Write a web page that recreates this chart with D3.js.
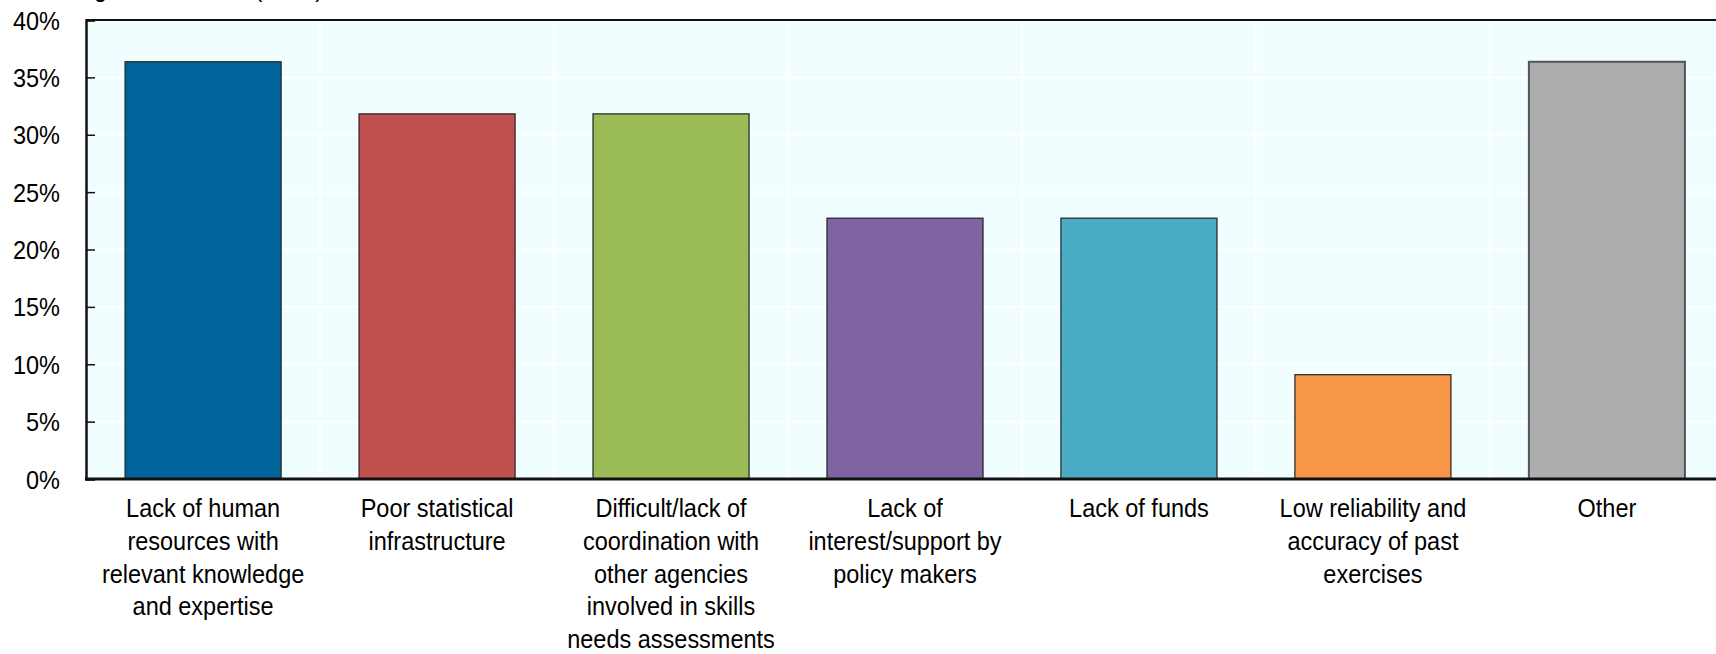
<!DOCTYPE html>
<html>
<head>
<meta charset="utf-8">
<script src="https://cdn.jsdelivr.net/npm/d3@7"></script>
<style>
  html, body { margin: 0; padding: 0; background: #ffffff; }
  svg { display: block; }
  text { font-family: "Liberation Sans", Arial, sans-serif; fill: #000; }
</style>
</head>
<body>
<svg id="chart" width="1716" height="654"></svg>
<script>
// Obstacles reported (share of countries, n = 22)
const categories = [
  ["Lack of human", "resources with", "relevant knowledge", "and expertise"],
  ["Poor statistical", "infrastructure"],
  ["Difficult/lack of", "coordination with", "other agencies", "involved in skills", "needs assessments"],
  ["Lack of", "interest/support by", "policy makers"],
  ["Lack of funds"],
  ["Low reliability and", "accuracy of past", "exercises"],
  ["Other"]
];
const shares = [36.36, 31.82, 31.82, 22.73, 22.73, 9.09, 36.36];
const barColors = ["#006399", "#C0504D", "#9BBB59", "#8064A2", "#4BACC6", "#F79646", "#ADADAD"];
const yTicks = [0, 5, 10, 15, 20, 25, 30, 35, 40];
const yTitle = "Percentage of countries (n=22)";

const svg = d3.select("#chart");
const plotLeft = 86, plotRight = 1724, plotTop = 20, plotBottom = 479;
const squeeze = 0.94;   // horizontal compression of the lettering
const fontSize = 25;

const x = d3.scaleBand()
  .domain(d3.range(categories.length))
  .range([plotLeft, plotRight])
  .paddingInner(0.333)
  .paddingOuter(0.167);
const y = d3.scaleLinear().domain([0, 40]).range([plotBottom, plotTop]);

// plot background
svg.append("rect")
  .attr("x", plotLeft).attr("y", plotTop)
  .attr("width", plotRight - plotLeft).attr("height", plotBottom - plotTop)
  .attr("fill", "#F1FEFF");

// white grid: horizontal at each tick, vertical between categories
svg.append("g").selectAll("line")
  .data(yTicks.filter(t => t > 0 && t < 40))
  .join("line")
  .attr("x1", plotLeft).attr("x2", plotRight)
  .attr("y1", d => y(d)).attr("y2", d => y(d))
  .attr("stroke", "#ffffff").attr("stroke-width", 2);

const step = x.step();
svg.append("g").selectAll("line")
  .data(d3.range(1, categories.length))
  .join("line")
  .attr("x1", d => plotLeft + d * step).attr("x2", d => plotLeft + d * step)
  .attr("y1", plotTop).attr("y2", plotBottom)
  .attr("stroke", "#ffffff").attr("stroke-width", 2);

// bars
svg.append("g").selectAll("rect")
  .data(shares)
  .join("rect")
  .attr("x", (d, i) => x(i))
  .attr("y", d => y(d))
  .attr("width", x.bandwidth())
  .attr("height", d => y(0) - y(d))
  .attr("fill", (d, i) => barColors[i])
  .attr("stroke", (d, i) => i === 6 ? "#555555" : "#222222")
  .attr("stroke-width", (d, i) => i === 6 ? 2 : 1.2);

// frame: top line, left axis, baseline
svg.append("line").attr("x1", plotLeft).attr("x2", plotRight).attr("y1", plotTop).attr("y2", plotTop)
  .attr("stroke", "#111").attr("stroke-width", 2);

const yAxis = d3.axisLeft(y).tickValues(yTicks).tickSize(-9).tickFormat("");
const ya = svg.append("g").attr("transform", `translate(${plotLeft},0)`).call(yAxis);
ya.select(".domain").attr("stroke", "#111").attr("stroke-width", 2.5);
ya.selectAll(".tick line").attr("stroke", "#111").attr("stroke-width", 1.5);

svg.append("line").attr("x1", plotLeft - 1).attr("x2", plotRight).attr("y1", plotBottom).attr("y2", plotBottom)
  .attr("stroke", "#111").attr("stroke-width", 3);

// y tick labels
svg.append("g").selectAll("text")
  .data(yTicks)
  .join("text")
  .attr("transform", d => `translate(60,${y(d) + 9.5}) scale(${squeeze},1)`)
  .attr("text-anchor", "end")
  .attr("font-size", fontSize)
  .text(d => d + "%");

// category labels
const lineH = 32.8;
const cat = svg.append("g").selectAll("g")
  .data(categories)
  .join("g")
  .attr("transform", (d, i) => `translate(${x(i) + x.bandwidth() / 2},517)`);
cat.selectAll("text")
  .data(d => d)
  .join("text")
  .attr("transform", (d, j) => `translate(0,${j * lineH}) scale(${squeeze},1)`)
  .attr("text-anchor", "middle")
  .attr("font-size", fontSize)
  .text(d => d);

// axis title (sits at the very top edge)
svg.append("text")
  .attr("transform", `translate(0,-3) scale(${squeeze},1)`)
  .attr("font-size", fontSize)
  .text(yTitle);
</script>
</body>
</html>
